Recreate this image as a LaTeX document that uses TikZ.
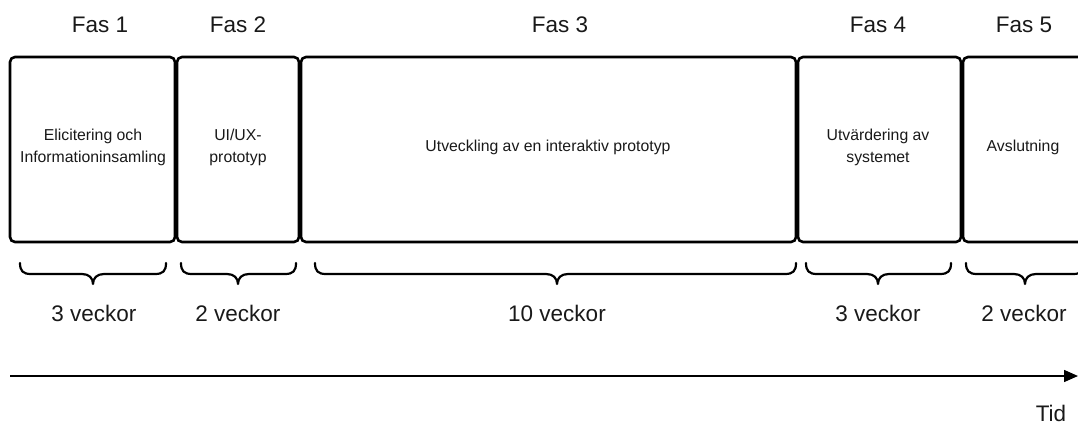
\documentclass[tikz,border=0pt]{standalone}
\usepackage{fontspec}
\setmainfont{Liberation Sans}
\usetikzlibrary{arrows.meta}
\begin{document}
\begin{tikzpicture}[x=1pt,y=-1pt,
  phase/.style={draw=black,line width=2.6pt,rounded corners=5pt,inner sep=0pt},
  boxtext/.style={align=center,font=\fontsize{15.8}{22}\selectfont,text=black!90},
  head/.style={font=\fontsize{22.5}{26}\selectfont,text=black!90},
  dur/.style={font=\fontsize{22.5}{26}\selectfont,text=black!90},
  bracestyle/.style={line width=2.2pt,line cap=round,line join=round}]
\useasboundingbox (0,0) rectangle (1078,424);
\clip (0,0) rectangle (1078,424);
% boxes
\draw[phase] (10,57) rectangle (175,242);
\draw[phase] (177,57) rectangle (299,242);
\draw[phase] (301,57) rectangle (796,242);
\draw[phase] (798,57) rectangle (961,242);
\draw[phase] (963,57) rectangle (1110,242);
\node[boxtext] (t1) at (93,147) {Elicitering och\\Informationinsamling};
\node[boxtext] (t2) at (238,147) {UI/UX-\\prototyp};
\node[boxtext] (t3) at (548,147) {Utveckling av en interaktiv prototyp};
\node[boxtext] (t4) at (878,147) {Utvärdering av\\systemet};
\node[boxtext] (t5) at (1023,147) {Avslutning};
% headings
\node[head] (f1) at (100,25) {Fas 1};
\node[head] (f2) at (238,25) {Fas 2};
\node[head] (f3) at (560,25) {Fas 3};
\node[head] (f4) at (878,25) {Fas 4};
\node[head] (f5) at (1024,25) {Fas 5};
% braces
\foreach \a/\c/\b in {20/93/166, 181/238/296, 315/557/796, 806/878/951, 966/1025/1084}{
  \draw[bracestyle] (\a,263) .. controls (\a,271) and (\a+3,274) .. (\a+11,274)
    -- (\c-11,274) .. controls (\c-4,274) and (\c,278) .. (\c,284)
    .. controls (\c,278) and (\c+4,274) .. (\c+11,274)
    -- (\b-11,274) .. controls (\b-3,274) and (\b,271) .. (\b,263);
}
% durations
\node[dur] (d1) at (94,313) {3 veckor};
\node[dur] (d2) at (238,313) {2 veckor};
\node[dur] (d3) at (557,313) {10 veckor};
\node[dur] (d4) at (878,313) {3 veckor};
\node[dur] (d5) at (1024,313) {2 veckor};
% time axis
\coordinate (s) at (10,376);
\coordinate (e) at (1078,376);
\draw[line width=1.5pt,-{Triangle[length=14pt,width=12pt]}] (s) -- (e);
\node[dur] (tid) at (1051,413) {Tid};
\end{tikzpicture}
\end{document}
